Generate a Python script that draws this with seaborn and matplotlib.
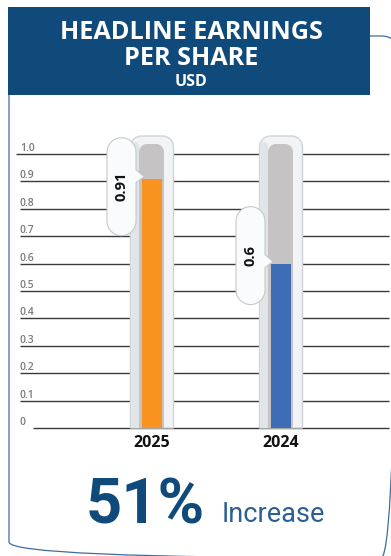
import numpy as np
import matplotlib
matplotlib.use("Agg")
import matplotlib.pyplot as plt
from matplotlib.patches import Polygon, Rectangle, FancyBboxPatch
import pandas as pd
import seaborn as sns

# ---- data -------------------------------------------------------------
years = ["2025", "2024"]
eps_values = [0.91, 0.60]
bar_colors = ["#F7931E", "#3F6DB5"]
tick_values = [0.0, 0.1, 0.2, 0.3, 0.4, 0.5, 0.6, 0.7, 0.8, 0.9, 1.0]
tick_labels = ["0", "0.1", "0.2", "0.3", "0.4", "0.5", "0.6", "0.7", "0.8", "0.9", "1.0"]
title_lines = ["HEADLINE EARNINGS", "PER SHARE"]
unit_label = "USD"
change_pct = "51%"
change_word = "Increase"

# ---- layout (pixels) --------------------------------------------------
W, H, DPI = 391, 556, 100
X_FIRST, X_STEP = 152, 129      # centre of first category, spacing
Y_ZERO, Y_UNIT = 428, 274       # baseline row, pixels per 1.0
NAVY = "#0F4A7B"
bubble_shift = [8, -8]          # callout centre offset from value, px

sns.set_theme(style="white")
plt.rcParams["font.family"] = ["Open Sans", "DejaVu Sans"]

fig = plt.figure(figsize=(W / DPI, H / DPI), dpi=DPI)
fig.patch.set_facecolor("white")

# background layer in pixel coordinates (y down)
bg = fig.add_axes([0, 0, 1, 1], zorder=0)
bg.set_xlim(0, W)
bg.set_ylim(H, 0)
bg.axis("off")

# chart layer in data coordinates
ax = fig.add_axes([0, 0, 1, 1], zorder=1)
ax.patch.set_alpha(0)

df = pd.DataFrame({"year": years, "eps": eps_values})
sns.barplot(data=df, x="year", y="eps", hue="year", order=years,
            hue_order=years, palette=bar_colors, width=20 / X_STEP,
            saturation=1, legend=False, linewidth=0, zorder=4, ax=ax)

ax.set_xlim(-X_FIRST / X_STEP, (W - X_FIRST) / X_STEP)
ax.set_ylim(-(H - Y_ZERO) / Y_UNIT, Y_ZERO / Y_UNIT)
ax.axis("off")


def d2p(x, y):
    X, Y = ax.transData.transform((x, y))
    return X, H - Y


def p2d(px, py):
    return tuple(ax.transData.inverted().transform((px, H - py)))


def poly(points, **kw):
    ax.add_patch(Polygon([p2d(x, y) for x, y in points], closed=True, **kw))


def top_rounded(x0, x1, ytop, ybot, r, n=14):
    pts = [(x0, ybot)]
    for t in np.linspace(np.pi, np.pi / 2, n):
        pts.append((x0 + r + r * np.cos(t), ytop + r - r * np.sin(t)))
    for t in np.linspace(np.pi / 2, 0, n):
        pts.append((x1 - r + r * np.cos(t), ytop + r - r * np.sin(t)))
    pts.append((x1, ybot))
    return pts


def callout(x0, x1, ytop, ybot, tip, n=18):
    r = (x1 - x0) / 2
    cx = (x0 + x1) / 2
    pts = []
    for t in np.linspace(np.pi, 0, n):
        pts.append((cx + r * np.cos(t), ytop + r - r * np.sin(t)))
    tx, ty = tip
    pts += [(x1, ty - 7), (tx, ty), (x1, ty + 6)]
    for t in np.linspace(0, -np.pi, n):
        pts.append((cx + r * np.cos(t), ybot - r - r * np.sin(t)))
    return pts


# gridlines and tick labels
for v, lab in zip(tick_values, tick_labels):
    _, py = d2p(0, v)
    x_start = 33 if v == 0 else (16 if v == 1.0 else 20)
    ax.plot([p2d(x_start, py)[0], p2d(389, py)[0]], [v, v],
            color="#3a3a3a", lw=1.0, zorder=1, solid_capstyle="butt")
    ax.text(p2d(20, py)[0], p2d(0, py - 3)[1], lab, ha="left", va="baseline",
            fontsize=7.5, fontweight="semibold", color="#7b7b7b", zorder=1)

# thermometer tubes, fills and value callouts
top_px = d2p(0, tick_values[-1])[1]
for i, (yr, val) in enumerate(zip(years, eps_values)):
    cx, vy = d2p(i, val)
    poly(top_rounded(cx - 21.5, cx + 21.5, top_px - 18, Y_ZERO, 11),
         facecolor="#f1f3f5", edgecolor="#d0d4d8", lw=1.0, zorder=2)
    poly(top_rounded(cx - 20.5, cx - 13, top_px - 12, Y_ZERO, 4),
         facecolor="#e2e5e8", edgecolor="none", zorder=2.5)
    poly(top_rounded(cx - 13, cx + 12, top_px - 10, Y_ZERO, 8),
         facecolor="#C5C3C4", edgecolor="none", zorder=3)

    bc = vy + bubble_shift[i]
    poly(callout(cx - 45, cx - 16, bc - 49, bc + 49, (cx - 8, vy - 2)),
         facecolor="#f9fbfc", edgecolor="#c6c9cc", lw=0.8, zorder=5)
    bx, by = p2d(cx - 30.5, bc)
    ax.text(bx, by, f"{val:g}", rotation=90, ha="center", va="center",
            fontsize=10.5, fontweight="bold", color="#111111", zorder=6)

    lx, ly = p2d(cx, 443)
    ax.text(lx, ly, yr, ha="center", va="center", fontsize=11.5,
            fontweight="bold", color="#111111", zorder=6)

# frame, header and summary
bg.add_patch(FancyBboxPatch((9, 36), 388, 522,
                            boxstyle="round,pad=0,rounding_size=16",
                            facecolor="none", edgecolor="#3f6d9c", lw=0.9))
bg.add_patch(Rectangle((8, 7), 362, 88, facecolor=NAVY, edgecolor="none"))
bg.text(191.5, 39, title_lines[0], ha="center", va="baseline", fontsize=18.2,
        fontweight="bold", color="white")
bg.text(191.5, 65, title_lines[1], ha="center", va="baseline", fontsize=18.2,
        fontweight="bold", color="white")
bg.text(191.5, 86, unit_label, ha="center", va="baseline", fontsize=11.5,
        fontweight="bold", color="white")

bg.text(86, 523, change_pct, ha="left", va="baseline", fontsize=45.5,
        fontweight="bold", color=NAVY, family=["Roboto", "DejaVu Sans"])
bg.text(222, 522, change_word, ha="left", va="baseline", fontsize=19.5,
        fontweight="normal", color="#2c5f93", family=["Roboto", "DejaVu Sans"])

fig.savefig("out.png", dpi=DPI, facecolor="white")
